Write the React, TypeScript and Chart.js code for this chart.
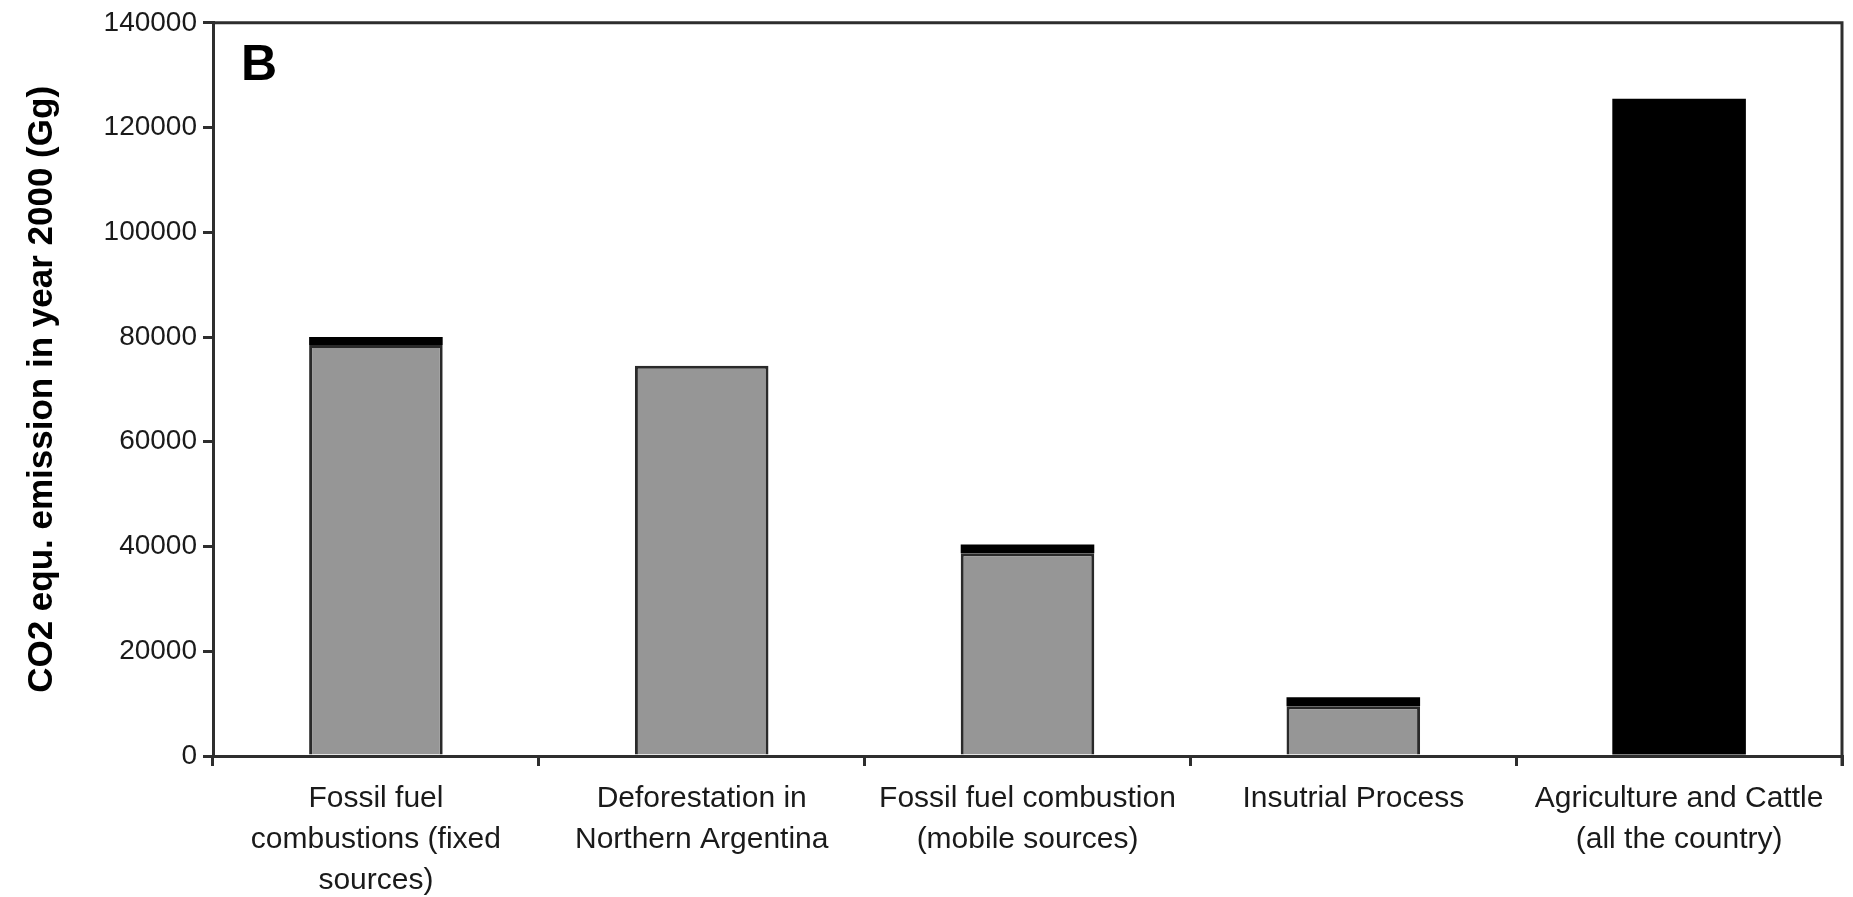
import React, { useEffect, useRef } from "react";
import { Chart, registerables } from "chart.js";

Chart.register(...registerables);

const categories: string[][] = [
  ["Fossil fuel", "combustions (fixed", "sources)"],
  ["Deforestation in", "Northern Argentina"],
  ["Fossil fuel combustion", "(mobile sources)"],
  ["Insutrial Process"],
  ["Agriculture and Cattle", "(all the country)"],
];
const grayValues = [78500, 74500, 38700, 9500, 0];
const blackValues = [1500, 0, 1700, 1700, 125500];
const yTicks = [0, 20000, 40000, 60000, 80000, 100000, 120000, 140000];
const panelLabel = "B";
const yTitle = "CO2 equ. emission in year 2000 (Gg)";

const FONT = "'Liberation Sans', Arial, sans-serif";
const AXIS = "#2e2e2e";
const TEXT = "#1a1a1a";

const framePlugin = {
  id: "frame",
  afterDraw(chart: any) {
    const { ctx, chartArea } = chart;
    ctx.save();
    ctx.strokeStyle = AXIS;
    ctx.lineWidth = 3;
    ctx.beginPath();
    ctx.moveTo(chartArea.left, chartArea.top);
    ctx.lineTo(chartArea.right, chartArea.top);
    ctx.lineTo(chartArea.right, chartArea.bottom + 10);
    ctx.stroke();
    ctx.fillStyle = "#000";
    ctx.font = `bold 50px ${FONT}`;
    ctx.textBaseline = "alphabetic";
    ctx.textAlign = "left";
    ctx.fillText(panelLabel, chartArea.left + 28, chartArea.top + 57);
    ctx.restore();
  },
};

export default function App() {
  const ref = useRef<HTMLCanvasElement | null>(null);
  useEffect(() => {
    document.body.style.margin = "0";
    const canvas = ref.current;
    if (!canvas) return;
    const chart = new Chart(canvas, {
      type: "bar",
      data: {
        labels: categories,
        datasets: [
          {
            label: "gray",
            data: grayValues,
            backgroundColor: "#969696",
            borderColor: "#2a2a2a",
            borderWidth: 3,
            barPercentage: 0.41,
            categoryPercentage: 1,
          },
          {
            label: "black",
            data: blackValues,
            backgroundColor: "#000000",
            borderColor: "#000000",
            borderWidth: 0,
            barPercentage: 0.41,
            categoryPercentage: 1,
          },
        ],
      },
      options: {
        animation: false,
        responsive: false,
        layout: { padding: { left: 0, top: 21, right: 11, bottom: 0 } },
        plugins: { legend: { display: false }, tooltip: { enabled: false } },
        scales: {
          x: {
            stacked: true,
            afterFit: (s: any) => {
              s.height = 141;
            },
            border: { display: true, color: AXIS, width: 3 },
            grid: {
              display: true,
              drawOnChartArea: false,
              drawTicks: true,
              tickLength: 10,
              color: AXIS,
              lineWidth: 3,
              offset: true,
            },
            ticks: {
              autoSkip: false,
              maxRotation: 0,
              minRotation: 0,
              padding: 12,
              color: TEXT,
              font: { family: FONT, size: 30, lineHeight: 1.37 },
            },
          },
          y: {
            stacked: true,
            min: 0,
            max: 140000,
            afterFit: (s: any) => {
              s.width = 213;
            },
            afterBuildTicks: (s: any) => {
              s.ticks = yTicks.map((v) => ({ value: v }));
            },
            border: { display: true, color: AXIS, width: 3 },
            grid: {
              display: true,
              drawOnChartArea: false,
              drawTicks: true,
              tickLength: 10,
              color: AXIS,
              lineWidth: 3,
            },
            ticks: {
              padding: 6,
              color: TEXT,
              font: { family: FONT, size: 28 },
              callback: (v: any) => String(v),
            },
            title: {
              display: true,
              text: yTitle,
              color: "#000",
              font: { family: FONT, size: 35, weight: "bold" },
              padding: { top: 21, bottom: 0 },
            },
          },
        },
      },
      plugins: [framePlugin],
    });
    return () => chart.destroy();
  }, []);
  return (
    <div style={{ width: 1853, height: 897, background: "#fff" }}>
      <canvas ref={ref} width={1853} height={897} style={{ display: "block" }} />
    </div>
  );
}
